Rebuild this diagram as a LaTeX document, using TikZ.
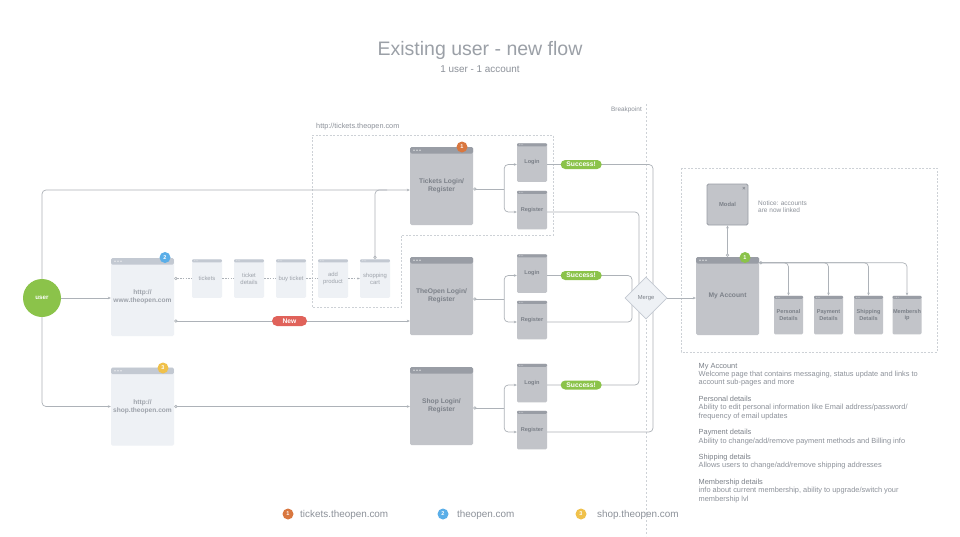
\documentclass[tikz,border=0pt]{standalone}
\usepackage{fontspec}
\setmainfont{Liberation Sans}
\usetikzlibrary{arrows.meta,shapes.geometric}
\definecolor{txt}{HTML}{8C9199}
\definecolor{ttl}{HTML}{9BA0A7}
\definecolor{ln}{HTML}{ADB2B8}
\definecolor{dl}{HTML}{CDD1D6}
\definecolor{lbody}{HTML}{EEF1F5}
\definecolor{lhead}{HTML}{C3C9D2}
\definecolor{dbody}{HTML}{C2C4C9}
\definecolor{dhead}{HTML}{999DA5}
\definecolor{dtxt}{HTML}{7B8088}
\definecolor{ltxt}{HTML}{9DA2AA}
\definecolor{ugreen}{HTML}{8BC34A}
\definecolor{uorange}{HTML}{D9773F}
\definecolor{ublue}{HTML}{5AAEE8}
\definecolor{uyellow}{HTML}{F0C14B}
\definecolor{ured}{HTML}{E0625A}
\newcommand\myfs[2]{\fontsize{#1}{#2}\selectfont}
\tikzset{
  pgbig/.style 2 args={rectangle, rounded corners=1.5pt, fill=#1, minimum width=63pt, minimum height=78pt, inner sep=1pt, align=center,
    path picture={\fill[#2] ([yshift=2pt]path picture bounding box.north west) rectangle ([yshift=-6.5pt]path picture bounding box.north east);
      \foreach \i in {0,1,2} {\fill[white,opacity=.6] ([xshift=4pt+\i*3pt,yshift=-3.2pt]path picture bounding box.north west) circle (0.9pt);}}},
  pgsmall/.style 2 args={rectangle, rounded corners=1.2pt, fill=#1, minimum width=30pt, minimum height=38.5pt, inner sep=0.5pt, align=center,
    path picture={\fill[#2] ([yshift=2pt]path picture bounding box.north west) rectangle ([yshift=-3pt]path picture bounding box.north east);
      \foreach \i in {0,1,2} {\fill[white,opacity=.6] ([xshift=2.5pt+\i*1.6pt,yshift=-1.5pt]path picture bounding box.north west) circle (0.45pt);}}},
  biglbl/.style={font=\myfs{6.7}{8}\bfseries, text=dtxt},
  lightbig/.style={font=\myfs{6.6}{8}\bfseries, text=ltxt},
  smalllbl/.style={font=\myfs{5.9}{6.9}, text=ltxt},
  loglbl/.style={font=\myfs{5.6}{6.6}\bfseries, text=dtxt},
  badge/.style={circle, fill=#1, text=white, inner sep=0pt, minimum size=11pt, font=\myfs{5.5}{6}\bfseries},
  pill/.style={rectangle, rounded corners=4.5pt, fill=#1, text=white, minimum width=41pt, minimum height=9pt, inner sep=0pt, font=\myfs{6.7}{7}\bfseries},
  conn/.style={draw=ln, line width=0.7pt},
  arr/.style={-{Stealth[length=3pt,width=2.6pt]}},
  scarr/.style={{Circle[open,fill=white,length=3.2pt]}-{Stealth[length=3pt,width=2.6pt]}},
  sc/.style={{Circle[open,fill=white,length=3.2pt]}-},
  dconn/.style={draw=ln, line width=0.6pt, dash pattern=on 1.6pt off 1.2pt},
  dbox/.style={draw=dl, line width=0.6pt, dash pattern=on 2pt off 1.5pt},
}
\begin{document}
\begin{tikzpicture}[x=1pt,y=-1pt]
\useasboundingbox (0,0) rectangle (960,536);
\fill[white] (0,0) rectangle (960,536);

% titles
\node[anchor=base, font=\myfs{19.5}{22}, text=ttl, inner sep=0] (title) at (480,55) {Existing user - new flow};
\node[anchor=base, font=\myfs{9.9}{11}, text=txt, inner sep=0] (subtitle) at (480,72) {1 user - 1 account};

% dashed regions
\draw[dbox] (312,135) -- (553,135) -- (553,235) -- (401,235) -- (401,307) -- (312,307) -- cycle;
\draw[dbox] (681,168) rectangle (937,352);
\draw[draw=dl, line width=0.6pt, dash pattern=on 2pt off 2pt] (646,104) -- (646,536);
\node[anchor=base east, font=\myfs{6.4}{7}, text=txt, inner sep=0] (bp) at (642,111) {Breakpoint};
\node[anchor=base west, font=\myfs{7.3}{8}, text=txt, inner sep=0] (tickurl) at (316,128) {http://tickets.theopen.com};

% user
\node[circle, fill=ugreen, minimum size=38pt, inner sep=0, text=white, font=\myfs{6.2}{7}\bfseries] (user) at (42,298) {user};

% light pages
\node[pgbig={lbody}{lhead}, lightbig] (theopen) at (142.5,297) {http://\\www.theopen.com};
\node[pgbig={lbody}{lhead}, lightbig] (shop) at (142.5,406.5) {http://\\shop.theopen.com};
\node[badge=ublue] (b2) at (165,257.5) {2};
\node[badge=uyellow] (b3) at (163,368) {3};

\node[pgsmall={lbody}{lhead}, smalllbl] (tix) at (207,278.5) {tickets};
\node[pgsmall={lbody}{lhead}, smalllbl] (tdet) at (249,278.5) {ticket\\details};
\node[pgsmall={lbody}{lhead}, smalllbl] (buy) at (291,278.5) {buy ticket};
\node[pgsmall={lbody}{lhead}, smalllbl] (addp) at (333,278.5) {add\\product};
\node[pgsmall={lbody}{lhead}, smalllbl] (cart) at (375,278.5) {shopping\\cart};

% login pages
\node[pgbig={dbody}{dhead}, biglbl] (tlog) at (441.5,186) {Tickets Login/\\Register};
\node[pgbig={dbody}{dhead}, biglbl] (olog) at (441.5,296) {TheOpen Login/\\Register};
\node[pgbig={dbody}{dhead}, biglbl] (slog) at (441.5,406) {Shop Login/\\Register};
\node[badge=uorange] (b1) at (462,147) {1};

\node[pgsmall={dbody}{dhead}, loglbl] (tL) at (532,162.5) {Login};
\node[pgsmall={dbody}{dhead}, loglbl] (tR) at (532,210) {Register};
\node[pgsmall={dbody}{dhead}, loglbl] (oL) at (532,273.5) {Login};
\node[pgsmall={dbody}{dhead}, loglbl] (oR) at (532,320) {Register};
\node[pgsmall={dbody}{dhead}, loglbl] (sL) at (532,383) {Login};
\node[pgsmall={dbody}{dhead}, loglbl] (sR) at (532,430) {Register};

% connectors from user
\coordinate (tin) at ([yshift=-4pt]tlog.west);
\draw[conn, arr] (user) -- (user -| theopen.west);
\draw[conn, arr, rounded corners=4pt] (user.north) -- (user.north |- tin) -- (tin);
\draw[conn, arr, rounded corners=4pt] (user.south) -- (user.south |- shop.west) -- (shop.west);

% dashed chain
\draw[dconn, sc] (theopen.east |- tix.west) -- (tix.west);
\draw[dconn] (tix.east) -- (tdet.west);
\draw[dconn] (tdet.east) -- (buy.west);
\draw[dconn] (buy.east) -- (addp.west);
\draw[dconn, -{Stealth[length=2.4pt,width=2pt]}] (addp.east) -- (cart.west);
\draw[conn, sc, rounded corners=4pt] (cart.north) -- (cart.north |- tin) -- ([xshift=12pt]cart.north |- tin);

% new + shop lines
\coordinate (nw) at ([yshift=-24pt]theopen.east);
\draw[conn, scarr] (nw) -- (nw -| olog.west);
\node[pill=ured, minimum width=35pt, minimum height=10pt, rounded corners=5pt] (newp) at (289.5,321) {New};
\draw[conn, scarr] (shop.east) -- (shop.east -| slog.west);

% login branches
\coordinate (tb) at ([xshift=31pt,yshift=-3pt]tlog.east);
\coordinate (ob) at ([xshift=31pt,yshift=-3pt]olog.east);
\coordinate (sb) at ([xshift=31pt,yshift=-2pt]slog.east);
\draw[conn, sc] ([yshift=-3pt]tlog.east) -- (tb);
\draw[conn, sc] ([yshift=-3pt]olog.east) -- (ob);
\draw[conn, sc] ([yshift=-2pt]slog.east) -- (sb);
\draw[conn, arr, rounded corners=4pt] (tb) |- ([yshift=-2pt]tL.west);
\draw[conn, arr, rounded corners=4pt] (tb) |- ([yshift=-2pt]tR.west);
\draw[conn, arr, rounded corners=4pt] (ob) |- ([yshift=-2pt]oL.west);
\draw[conn, arr, rounded corners=4pt] (ob) |- ([yshift=-2pt]oR.west);
\draw[conn, arr, rounded corners=4pt] (sb) |- ([yshift=-2pt]sL.west);
\draw[conn, arr, rounded corners=4pt] (sb) |- ([yshift=-2pt]sR.west);

% success / merge lines
\coordinate (m1) at (653,0);
\coordinate (m2) at (639,0);
\coordinate (m3) at (632,0);
\coordinate (tLe) at ([yshift=-2pt]tL.east);
\coordinate (tRe) at ([yshift=-2pt]tR.east);
\coordinate (oLe) at ([yshift=-2pt]oL.east);
\coordinate (oRe) at ([yshift=-2pt]oR.east);
\coordinate (sLe) at ([yshift=-2pt]sL.east);
\coordinate (sRe) at ([yshift=-2pt]sR.east);
\draw[conn, rounded corners=4pt] (tLe) -- (tLe -| m1) -- (sRe -| m1) -- (sRe);
\draw[conn, rounded corners=4pt] (tRe) -- (tRe -| m2) -- (sLe -| m2) -- (sLe);
\draw[conn, rounded corners=4pt] (oLe) -- (oLe -| m3) -- (oRe -| m3) -- (oRe);
\node[pill=ugreen] (ts) at ([xshift=34pt]tLe) {Success!};
\node[pill=ugreen] (os) at ([xshift=34pt]oLe) {Success!};
\node[pill=ugreen] (ss) at ([xshift=34pt]sLe) {Success!};

\node[diamond, aspect=1, minimum size=42pt, inner sep=0, fill=lbody, draw=lhead, line width=0.7pt, font=\myfs{5.8}{6.5}, text=dtxt] (merge) at (646,298) {Merge};

% my account
\node[pgbig={dbody}{dhead}, biglbl] (acct) at (727.5,296) {My Account};
\node[badge=ugreen] (b4) at (745,257.5) {1};
\node[rectangle, rounded corners=1.5pt, fill=dbody, draw=dhead, line width=0.8pt, minimum width=41pt, minimum height=41pt, inner sep=0, font=\myfs{5.8}{6.5}\bfseries, text=dtxt] (modal) at (727.5,204.5) {Modal};
\node[font=\myfs{5.5}{6}\bfseries, text=dtxt, inner sep=0] (mx) at (744,188.5) {×};
\node[anchor=north west, align=left, font=\myfs{6.5}{7.4}, text=txt, inner sep=0] (notice) at (758,200.5) {Notice: accounts\\are now linked};
\draw[conn, scarr] (acct.north) -- (modal.south);
\draw[conn, arr] (merge.east) -- (merge.east -| acct.west);

\node[pgsmall={dbody}{dhead}, loglbl, minimum width=29pt] (pd) at (788.5,315) {Personal\\Details};
\node[pgsmall={dbody}{dhead}, loglbl, minimum width=29pt] (pay) at (828.5,315) {Payment\\Details};
\node[pgsmall={dbody}{dhead}, loglbl, minimum width=29pt] (ship) at (868.5,315) {Shipping\\Details};
\node[pgsmall={dbody}{dhead}, loglbl, minimum width=29pt] (mem) at (907,315) {Membersh\\ip};
\coordinate (ab) at ([yshift=-6pt]acct.north east);
\draw[conn, scarr, rounded corners=4pt] (ab) -| (pd.north);
\draw[conn, arr, rounded corners=4pt] (ab) -| (pay.north);
\draw[conn, arr, rounded corners=4pt] (ab) -| (ship.north);
\draw[conn, arr, rounded corners=4pt] (ab) -| (mem.north);

% description
\node[anchor=north west, align=left, font=\myfs{7.4}{8.3}, text=txt, inner sep=0] (desc) at (698.5,363) {%
{\color{dtxt}My Account}\\
Welcome page that contains messaging, status update and links to\\
account sub-pages and more\\[8.3pt]
{\color{dtxt}Personal details}\\
Ability to edit personal information like Email address/password/\\
frequency of email updates\\[8.3pt]
{\color{dtxt}Payment details}\\
Ability to change/add/remove payment methods and Billing info\\[8.3pt]
{\color{dtxt}Shipping details}\\
Allows users to change/add/remove shipping addresses\\[8.3pt]
{\color{dtxt}Membership details}\\
info about current membership, ability to upgrade/switch your\\
membership lvl};

% legend
\node[badge=uorange] (l1) at (288,514) {1};
\node[anchor=base west, font=\myfs{9.9}{11}, text=txt, inner sep=0] (l1t) at (300,517.5) {tickets.theopen.com};
\node[badge=ublue] (l2) at (443,514) {2};
\node[anchor=base west, font=\myfs{9.9}{11}, text=txt, inner sep=0] (l2t) at (457,517.5) {theopen.com};
\node[badge=uyellow] (l3) at (581,514) {3};
\node[anchor=base west, font=\myfs{9.9}{11}, text=txt, inner sep=0] (l3t) at (597,517.5) {shop.theopen.com};
\end{tikzpicture}
\end{document}
